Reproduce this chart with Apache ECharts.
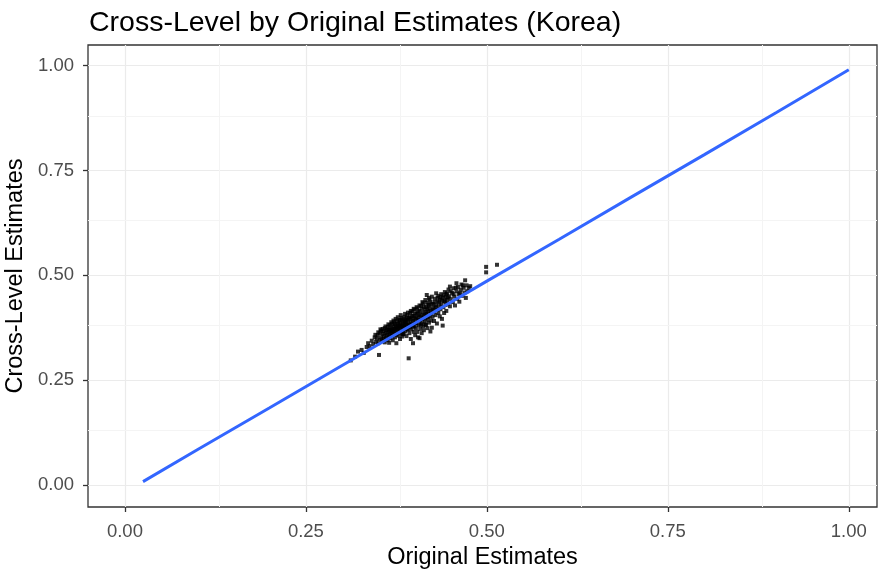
<!DOCTYPE html>
<html>
<head>
<meta charset="utf-8">
<script src="https://cdn.jsdelivr.net/npm/echarts@6/dist/echarts.min.js"></script>
<style>
  html, body { margin: 0; padding: 0; background: #fff; }
  #chart { width: 878px; height: 571px; }
</style>
</head>
<body>
<div id="chart"></div>
<script>
// tick labels (both axes)
var tickValues = [0, 0.25, 0.5, 0.75, 1];
var minorValues = [0.125, 0.375, 0.625, 0.875];

// fitted line (original -> cross-level)
var fitX = [0.025, 0.10, 0.20, 0.30, 0.40, 0.50, 0.60, 0.70, 0.80, 0.90, 1.00];
var fitY = [0.008, 0.084, 0.184, 0.285, 0.385, 0.486, 0.586, 0.687, 0.787, 0.888, 0.990];

// estimates: [original, cross-level]
var estimates = [
  [0.312,0.297],[0.318,0.306],[0.322,0.318],[0.327,0.322],[0.330,0.315],[0.334,0.329],[0.336,0.338],[0.338,0.331],
  [0.341,0.344],[0.343,0.336],[0.345,0.352],[0.347,0.341],[0.346,0.358],[0.350,0.364],[0.354,0.368],
  [0.348,0.349],[0.349,0.357],[0.350,0.338],[0.351,0.310],[0.352,0.362],[0.352,0.347],[0.353,0.371],[0.354,0.352],
  [0.355,0.343],[0.356,0.360],[0.357,0.366],[0.357,0.349],[0.358,0.355],[0.359,0.374],[0.359,0.340],[0.360,0.362],
  [0.361,0.351],[0.361,0.368],[0.362,0.358],[0.363,0.345],[0.363,0.377],[0.364,0.364],[0.364,0.354],[0.365,0.371],
  [0.365,0.339],[0.356,0.372],[0.358,0.345],[0.360,0.378],[0.362,0.370],[0.364,0.383],
  [0.366,0.360],[0.366,0.381],[0.367,0.368],[0.367,0.350],[0.368,0.375],[0.368,0.362],[0.369,0.356],[0.369,0.384],
  [0.370,0.371],[0.370,0.345],[0.371,0.366],[0.371,0.378],[0.372,0.359],[0.372,0.388],[0.373,0.372],[0.373,0.352],
  [0.374,0.380],[0.374,0.365],[0.375,0.338],[0.375,0.376],[0.376,0.391],[0.376,0.361],[0.377,0.370],[0.377,0.383],
  [0.378,0.356],[0.378,0.375],[0.379,0.394],[0.379,0.366],[0.380,0.381],[0.380,0.348],[0.381,0.372],[0.381,0.387],
  [0.382,0.362],[0.382,0.398],[0.383,0.377],[0.383,0.354],[0.384,0.384],[0.384,0.369],[0.385,0.392],[0.385,0.360],
  [0.366,0.371],[0.368,0.388],[0.369,0.366],[0.371,0.392],[0.372,0.370],[0.373,0.384],[0.374,0.396],[0.375,0.358],
  [0.376,0.373],[0.377,0.400],[0.378,0.385],[0.379,0.379],[0.380,0.392],[0.381,0.405],[0.382,0.378],[0.383,0.395],
  [0.384,0.359],[0.385,0.381],
  [0.386,0.378],[0.386,0.401],[0.387,0.386],[0.387,0.366],[0.388,0.395],[0.388,0.373],[0.389,0.355],[0.389,0.389],
  [0.390,0.381],[0.390,0.405],[0.391,0.370],[0.391,0.393],[0.392,0.302],[0.392,0.384],[0.393,0.362],[0.393,0.399],
  [0.394,0.376],[0.394,0.410],[0.395,0.388],[0.395,0.348],[0.396,0.396],[0.396,0.371],[0.397,0.383],[0.397,0.414],
  [0.398,0.338],[0.398,0.392],[0.399,0.365],[0.399,0.403],[0.400,0.378],[0.400,0.418],[0.401,0.389],[0.401,0.357],
  [0.402,0.397],[0.402,0.374],[0.403,0.409],[0.403,0.385],[0.404,0.365],[0.404,0.421],[0.405,0.393],[0.405,0.352],
  [0.386,0.390],[0.387,0.408],[0.388,0.382],[0.389,0.398],[0.390,0.372],[0.391,0.411],[0.392,0.395],[0.393,0.380],
  [0.394,0.400],[0.395,0.415],[0.396,0.382],[0.397,0.404],[0.398,0.378],[0.399,0.420],[0.400,0.398],[0.401,0.408],
  [0.402,0.386],[0.403,0.424],[0.404,0.400],[0.405,0.413],
  [0.406,0.381],[0.406,0.404],[0.407,0.350],[0.407,0.415],[0.408,0.392],[0.408,0.372],[0.409,0.427],[0.409,0.400],
  [0.410,0.385],[0.410,0.362],[0.411,0.411],[0.411,0.395],[0.412,0.378],[0.412,0.433],[0.413,0.404],[0.413,0.369],
  [0.414,0.418],[0.414,0.389],[0.415,0.441],[0.415,0.398],[0.416,0.381],[0.416,0.424],[0.417,0.453],[0.417,0.408],
  [0.418,0.374],[0.418,0.394],[0.419,0.430],[0.419,0.414],[0.420,0.387],[0.420,0.446],[0.421,0.402],[0.421,0.421],
  [0.422,0.366],[0.422,0.436],[0.423,0.409],[0.423,0.392],[0.424,0.375],[0.424,0.449],[0.425,0.418],[0.425,0.401],
  [0.406,0.392],[0.407,0.428],[0.408,0.406],[0.409,0.382],[0.410,0.420],[0.411,0.436],[0.412,0.398],[0.413,0.425],
  [0.414,0.407],[0.415,0.383],[0.416,0.412],[0.417,0.435],[0.418,0.420],[0.419,0.401],[0.420,0.428],[0.421,0.442],
  [0.422,0.414],[0.424,0.431],
  [0.426,0.432],[0.427,0.413],[0.427,0.391],[0.428,0.444],[0.429,0.424],[0.429,0.405],[0.430,0.457],[0.431,0.418],
  [0.431,0.385],[0.432,0.437],[0.433,0.410],[0.433,0.451],[0.434,0.426],[0.435,0.402],[0.435,0.442],[0.436,0.419],
  [0.437,0.455],[0.437,0.431],[0.438,0.396],[0.439,0.380],[0.439,0.446],[0.440,0.424],[0.441,0.438],[0.441,0.410],
  [0.442,0.460],[0.443,0.429],[0.443,0.448],[0.444,0.415],[0.445,0.441],[0.445,0.457],
  [0.426,0.422],[0.428,0.436],[0.430,0.428],[0.432,0.446],[0.434,0.435],[0.436,0.448],[0.438,0.440],[0.440,0.452],
  [0.442,0.438],[0.444,0.455],
  [0.446,0.432],[0.447,0.466],[0.448,0.450],[0.449,0.473],[0.449,0.426],[0.450,0.443],[0.452,0.458],[0.453,0.436],
  [0.454,0.469],[0.455,0.449],[0.456,0.428],[0.458,0.462],[0.458,0.481],[0.459,0.444],[0.460,0.472],[0.461,0.455],
  [0.462,0.437],[0.464,0.466],[0.465,0.478],[0.466,0.451],[0.468,0.470],[0.469,0.459],[0.470,0.488],[0.471,0.446],
  [0.472,0.476],[0.473,0.462],[0.475,0.470],[0.477,0.474],
  [0.446,0.447],[0.450,0.462],[0.454,0.455],[0.457,0.470],[0.463,0.458],[0.467,0.476],
  [0.499,0.520],[0.499,0.507],[0.514,0.525]
];

var chart = echarts.init(document.getElementById('chart'));

var fontName = '"Liberation Sans", Arial, sans-serif';
var fitData = fitX.map(function (x, i) { return [x, fitY[i]]; });

function gridAxis(name, min, max, gap, rotate, margin) {
  return {
    type: 'value',
    min: min,
    max: max,
    name: name,
    nameLocation: 'middle',
    nameGap: gap,
    nameRotate: rotate,
    nameTextStyle: { color: '#000', fontSize: 23.5, fontFamily: fontName },
    axisLine: { show: false, onZero: false },
    axisTick: { show: true, inside: false, customValues: tickValues, length: 5, lineStyle: { color: '#333', width: 1.3 } },
    axisLabel: {
      customValues: tickValues,
      color: '#4d4d4d',
      fontSize: 18.5,
      fontFamily: fontName,
      margin: margin,
      formatter: function (v) { return v.toFixed(2); }
    },
    splitLine: { show: true, lineStyle: { color: '#ebebeb', width: 1.2 } }
  };
}

var minorLines = [];
minorValues.forEach(function (v) {
  minorLines.push({ xAxis: v });
  minorLines.push({ yAxis: v });
});

var option = {
  backgroundColor: '#fff',
  animation: false,
  title: {
    text: 'Cross-Level by Original Estimates (Korea)',
    left: 84,
    top: 4,
    textStyle: { color: '#000', fontSize: 28.5, fontWeight: 'normal', fontFamily: fontName }
  },
  grid: {
    left: 88, right: 1, top: 45, bottom: 64,
    outerBoundsMode: 'none',
    show: true,
    borderColor: '#333333',
    borderWidth: 1.3,
    backgroundColor: 'transparent'
  },
  xAxis: gridAxis('Original Estimates', -0.051, 1.039, 34, 0, 15),
  yAxis: gridAxis('Cross-Level Estimates', -0.0525, 1.049, 50, 90, 14),
  series: [
    {
      // minor grid
      type: 'line',
      data: [],
      silent: true,
      z: 0,
      markLine: {
        silent: true,
        symbol: 'none',
        label: { show: false },
        z: 0,
        lineStyle: { color: '#f4f4f4', width: 1, type: 'solid' },
        data: minorLines
      }
    },
    {
      type: 'scatter',
      data: estimates,
      symbol: 'rect',
      symbolSize: 4,
      itemStyle: { color: '#000' },
      z: 3
    },
    {
      type: 'line',
      data: fitData,
      showSymbol: false,
      smooth: false,
      lineStyle: { color: '#3366FF', width: 3 },
      z: 4
    }
  ]
};

chart.setOption(option);
</script>
</body>
</html>
